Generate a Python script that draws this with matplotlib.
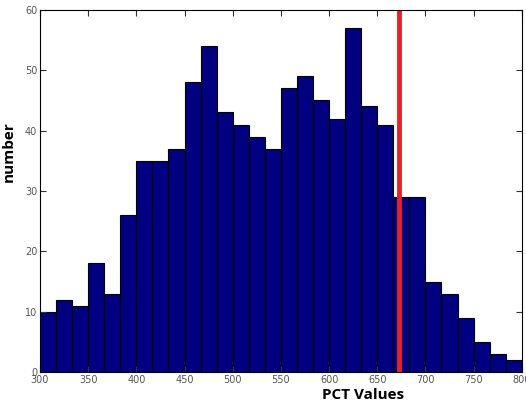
import numpy as np
import matplotlib
matplotlib.use("Agg")
import matplotlib.pyplot as plt

# Histogram counts per bin (30 bins from 300 to 800)
bin_start = 300
bin_end = 800
counts = [10, 12, 11, 18, 13, 26, 35, 35, 37, 48,
          54, 43, 41, 39, 37, 47, 49, 45, 42, 57,
          44, 41, 29, 29, 15, 13, 9, 5, 3, 2]
threshold = 673
x_ticks = [300, 350, 400, 450, 500, 550, 600, 650, 700, 750, 800]
y_ticks = [0, 10, 20, 30, 40, 50, 60]

edges = np.linspace(bin_start, bin_end, len(counts) + 1)

fig = plt.figure(figsize=(5.26, 4.09), dpi=100)
ax = fig.add_axes([0.076, 0.09, 0.916, 0.886])

ax.bar(edges[:-1], counts, width=np.diff(edges), align='edge',
       color='#000080', edgecolor='#000000', linewidth=0.8)
ax.axvline(threshold, color='#e8202a', linewidth=3.5)

ax.set_xlim(bin_start, bin_end)
ax.set_ylim(0, 60)
ax.set_xticks(x_ticks)
ax.set_yticks(y_ticks)
ax.tick_params(direction='in', top=True, right=True, length=4,
               labelsize=7, colors='#333333', labelcolor='#555555', pad=2)
for s in ax.spines.values():
    s.set_linewidth(0.8)

# labels sit off-centre in the original
ax.set_xlabel("PCT Values", fontsize=11, fontweight='bold', family='Open Sans', labelpad=1)
ax.xaxis.set_label_coords(0.67, -0.045)
ax.set_ylabel("number", fontsize=11, fontweight='bold', family='Open Sans', labelpad=2)
ax.yaxis.set_label_coords(-0.05, 0.61)

fig.savefig("out.png", dpi=100)
